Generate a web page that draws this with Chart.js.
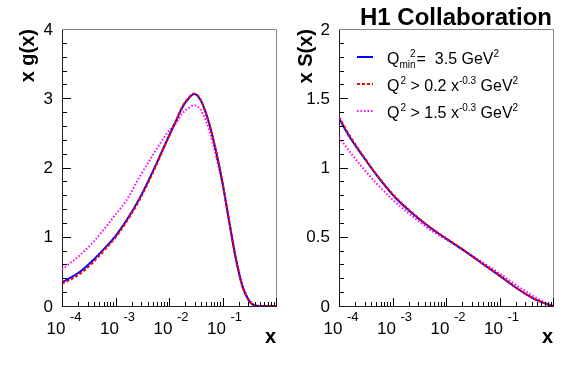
<!DOCTYPE html>
<html><head><meta charset="utf-8">
<script src="https://cdn.jsdelivr.net/npm/chart.js@4/dist/chart.umd.min.js"></script>
<style>
html,body{margin:0;padding:0;background:#fff;}
#wrap{position:relative;width:567px;height:369px;overflow:hidden;}
#c1{position:absolute;left:0;top:0;}
#c2{position:absolute;left:290px;top:0;}
</style></head><body>
<div id="wrap"><canvas id="c1" width="290" height="369"></canvas><canvas id="c2" width="277" height="369"></canvas></div>
<script>
// ---------------- data ----------------
// left panel: x g(x), positions given as log10(x)
const gluonLogX  = [-4.0, -3.67, -3.42, -3.17, -3.0, -2.8, -2.56, -2.31, -2.04, -1.86, -1.75, -1.63, -1.53, -1.45, -1.37, -1.25, -1.125, -1.0, -0.875, -0.75, -0.626, -0.5, -0.41, -0.3, 0];
const gluonQmin  = [0.34, 0.49, 0.66, 0.86, 1.01, 1.23, 1.54, 1.93, 2.39, 2.69, 2.87, 3.00, 3.06, 3.02, 2.91, 2.64, 2.25, 1.78, 1.22, 0.68, 0.28, 0.07, 0.01, 0, 0];
const gluonCut02 = [0.32, 0.46, 0.63, 0.84, 0.99, 1.21, 1.52, 1.91, 2.38, 2.69, 2.88, 3.01, 3.07, 3.03, 2.91, 2.64, 2.25, 1.78, 1.22, 0.68, 0.28, 0.07, 0.01, 0, 0];
const gluonCut15 = [0.53, 0.73, 0.92, 1.15, 1.32, 1.52, 1.85, 2.17, 2.49, 2.65, 2.78, 2.86, 2.90, 2.87, 2.78, 2.54, 2.18, 1.76, 1.23, 0.70, 0.31, 0.085, 0.015, 0, 0];
// right panel: x S(x)
const seaLogX  = [-4.0, -3.80, -3.55, -3.30, -2.99, -2.68, -2.31, -1.99, -1.68, -1.31, -1.0, -0.69, -0.37, -0.19, 0];
const seaQmin  = [1.355, 1.22, 1.08, 0.946, 0.80, 0.686, 0.57, 0.485, 0.405, 0.303, 0.219, 0.132, 0.055, 0.024, 0];
const seaCut02 = [1.365, 1.23, 1.085, 0.95, 0.805, 0.69, 0.572, 0.487, 0.405, 0.303, 0.219, 0.132, 0.055, 0.024, 0];
const seaCut15 = [1.218, 1.114, 0.994, 0.886, 0.765, 0.664, 0.554, 0.479, 0.404, 0.313, 0.236, 0.152, 0.072, 0.034, 0];
// axis ticks
const xDecades    = [1e-4, 1e-3, 1e-2, 1e-1];
const xDecadeBase = '10';
const xExponents  = ['-4', '-3', '-2', '-1'];
const gluonTitle  = 'x g(x)';
const seaTitle    = 'x S(x)';
const xTitle      = 'x';
const collabLabel = 'H1 Collaboration';
const seriesNames = ['Q_min^2 = 3.5 GeV^2', 'Q^2 > 0.2 x^-0.3 GeV^2', 'Q^2 > 1.5 x^-0.3 GeV^2'];

// ---------------- styling ----------------
const FONT = '"Liberation Sans", Arial, Helvetica, sans-serif';
Chart.defaults.font.family = FONT;
Chart.defaults.color = '#000';
const BLUE = '#0000ff', RED = '#ff0000', MAG = '#ff00ff';
const RED_DASH = [3, 2], MAG_DASH = [1.5, 2];

function pts(lx, ys) { return lx.map((l, i) => ({x: Math.pow(10, l), y: ys[i]})); }

function makeFramePlugin(yMinor, perMajor) {
  return {
    id: 'frame',
    afterDraw(chart) {
      const {ctx, chartArea: a, scales: {x, y}} = chart;
      ctx.save();
      ctx.lineWidth = 1;
      ctx.strokeStyle = '#8a8a8a';
      ctx.beginPath();
      ctx.moveTo(a.left, Math.round(a.top) + 0.5);
      ctx.lineTo(Math.round(a.right) + 0.5, Math.round(a.top) + 0.5);
      ctx.lineTo(Math.round(a.right) + 0.5, a.bottom);
      ctx.stroke();
      ctx.strokeStyle = '#000';
      ctx.beginPath();
      const n = Math.round((y.max - y.min) / yMinor);
      for (let i = 1; i < n; i++) {
        const v = y.min + i * yMinor;
        const py = Math.round(y.getPixelForValue(v)) + 0.5;
        const major = i % perMajor === 0;
        ctx.moveTo(a.left, py); ctx.lineTo(a.left + (major ? 9 : 5), py);
      }
      for (let d = -4; d <= 0; d++) {
        for (let m = 1; m <= 9; m++) {
          const v = m * Math.pow(10, d);
          if (v > 1.0001) break;
          const px = Math.round(x.getPixelForValue(v)) + 0.5;
          ctx.moveTo(px, a.bottom); ctx.lineTo(px, a.bottom - (m === 1 ? 8 : 4));
        }
      }
      ctx.stroke();
      ctx.fillStyle = '#000';
      ctx.font = '13px ' + FONT;
      ctx.textAlign = 'left';
      ctx.textBaseline = 'alphabetic';
      xDecades.forEach((v, i) => {
        const px = x.getPixelForValue(v);
        ctx.fillText(xExponents[i], px + 8, a.bottom + 15);
      });
      ctx.restore();
    }
  };
}

function drawRich(ctx, x, y, parts) {
  for (const p of parts) {
    if (p.gap) { x += p.gap; continue; }
    if (p.stack) {
      ctx.font = '10px ' + FONT;
      const ws = ctx.measureText(p.sub).width, wp = ctx.measureText(p.sup).width;
      ctx.fillText(p.sub, x, y + 4);
      ctx.fillText(p.sup, x + ws - wp, y - 7);
      x += Math.max(ws, wp);
      continue;
    }
    const sup = p.s === 'sup';
    ctx.font = (sup ? '10px ' : '16px ') + FONT;
    ctx.fillText(p.t, x, y + (sup ? -7 : 0));
    x += ctx.measureText(p.t).width;
  }
}

const legendPlugin = {
  id: 'h1legend',
  afterDraw(chart) {
    const {ctx, chartArea: a} = chart;
    ctx.save();
    const lx0 = a.left + 18, lx1 = a.left + 34, tx = a.left + 48;
    const rows = [
      {c: BLUE, dash: [], ly: 57, by: 64, parts: [{t: 'Q'}, {stack: true, sub: 'min', sup: '2'}, {gap: 1}, {t: '=  3.5 GeV'}, {t: '2', s: 'sup'}]},
      {c: RED, dash: RED_DASH, ly: 84, by: 91, parts: [{t: 'Q'}, {gap: 1}, {t: '2', s: 'sup'}, {t: ' > 0.2 x'}, {t: '-0.3', s: 'sup'}, {t: ' GeV'}, {t: '2', s: 'sup'}]},
      {c: MAG, dash: MAG_DASH, ly: 111, by: 118, parts: [{t: 'Q'}, {gap: 1}, {t: '2', s: 'sup'}, {t: ' > 1.5 x'}, {t: '-0.3', s: 'sup'}, {t: ' GeV'}, {t: '2', s: 'sup'}]}
    ];
    ctx.textAlign = 'left';
    ctx.textBaseline = 'alphabetic';
    rows.forEach(r => {
      ctx.strokeStyle = r.c; ctx.lineWidth = 2; ctx.setLineDash(r.dash);
      ctx.beginPath(); ctx.moveTo(lx0, r.ly); ctx.lineTo(lx1, r.ly); ctx.stroke();
      ctx.setLineDash([]);
      ctx.fillStyle = '#000';
      drawRich(ctx, tx, r.by, r.parts);
    });
    ctx.font = 'bold 24px ' + FONT;
    ctx.textAlign = 'right';
    ctx.fillText(collabLabel, a.right - 1, 25);
    ctx.restore();
  }
};

function makeChart(canvas, lx, s1, s2, s3, yMax, yStep, yMinor, perMajor, yWidth, yTitle, yTitlePad, extraPlugins) {
  return new Chart(canvas, {
    type: 'line',
    data: {
      datasets: [
        {label: seriesNames[1], data: pts(lx, s2), borderColor: RED, borderWidth: 2, borderDash: RED_DASH},
        {label: seriesNames[0], data: pts(lx, s1), borderColor: BLUE, borderWidth: 2},
        {label: seriesNames[2], data: pts(lx, s3), borderColor: MAG, borderWidth: 2, borderDash: MAG_DASH}
      ]
    },
    options: {
      responsive: false,
      animation: false,
      devicePixelRatio: 1,
      layout: {padding: {top: 29, right: 14, left: 0, bottom: 0}},
      elements: {point: {radius: 0}, line: {cubicInterpolationMode: 'monotone', fill: false}},
      plugins: {legend: {display: false}, tooltip: {enabled: false}},
      scales: {
        x: {
          type: 'logarithmic', min: 1e-4, max: 1,
          grid: {display: false},
          border: {display: true, color: '#222', width: 1},
          afterBuildTicks: s => { s.ticks = xDecades.map(v => ({value: v})); },
          afterFit: s => { s.height = 63; },
          ticks: {autoSkip: false, maxRotation: 0, padding: 5, labelOffset: -6,
                  font: {size: 17}, callback: () => xDecadeBase},
          title: {display: true, text: xTitle, align: 'end', font: {size: 20, weight: 'bold'},
                  padding: {top: 0, bottom: 20}}
        },
        y: {
          min: 0, max: yMax,
          grid: {display: false, drawTicks: false},
          border: {display: true, color: '#222', width: 1},
          afterFit: s => { s.width = yWidth; },
          ticks: {stepSize: yStep, padding: 9, font: {size: 17}, labelOffset: 1,
                  callback: v => String(v)},
          title: {display: true, text: yTitle, align: 'end', font: {size: 20, weight: 'bold'},
                  padding: {top: yTitlePad, bottom: 0}}
        }
      }
    },
    plugins: [makeFramePlugin(yMinor, perMajor)].concat(extraPlugins)
  });
}

makeChart(document.getElementById('c1'), gluonLogX, gluonQmin, gluonCut02, gluonCut15,
  4, 1, 0.2, 5, 62, gluonTitle, 16, []);
makeChart(document.getElementById('c2'), seaLogX, seaQmin, seaCut02, seaCut15,
  2, 0.5, 0.1, 5, 49, seaTitle, 4, [legendPlugin]);
</script>
</body></html>
